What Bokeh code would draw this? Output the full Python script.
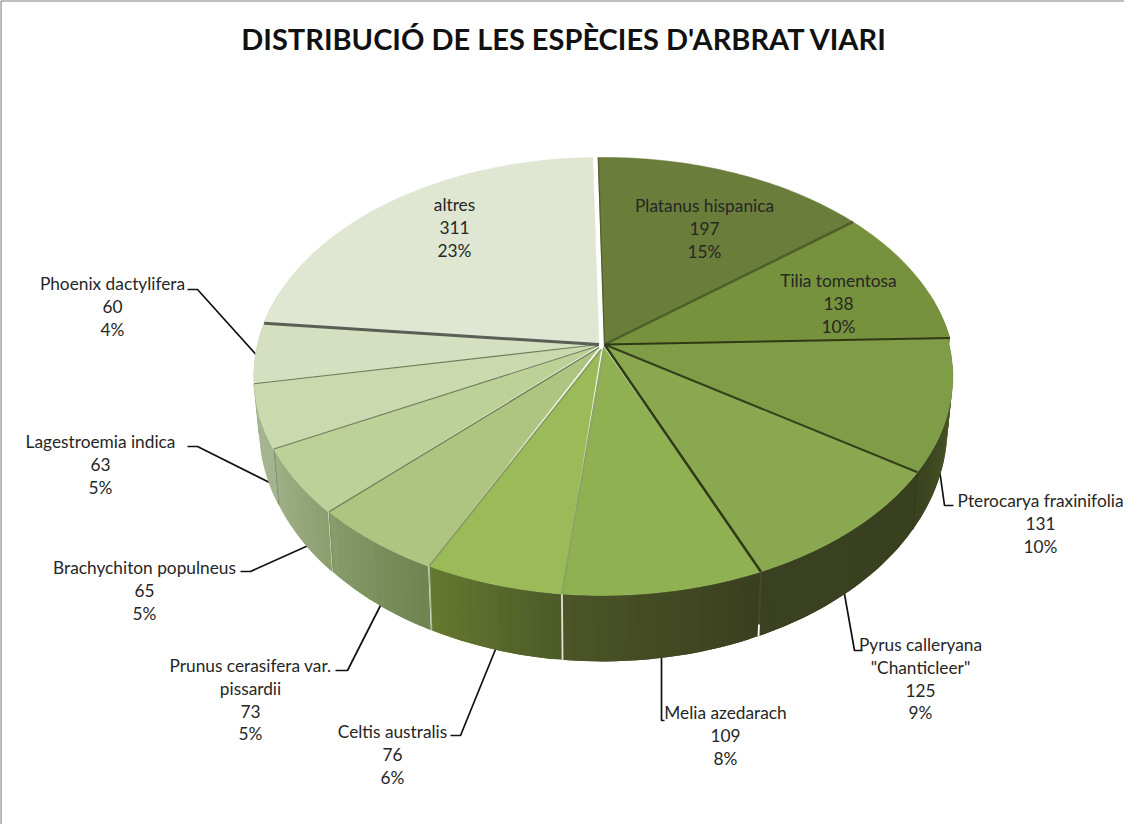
import math
from bokeh.plotting import figure
from bokeh.embed import file_html
from bokeh.resources import INLINE
from bokeh.models import Range1d
from bokeh.core.properties import value

TITLE = "DISTRIBUCIÓ DE LES ESPÈCIES D'ARBRAT VIARI"
species = ["Platanus hispanica", "Tilia tomentosa", "Pterocarya fraxinifolia",
           "Pyrus calleryana\n\"Chanticleer\"", "Melia azedarach", "Celtis australis",
           "Prunus cerasifera var.\npissardii", "Brachychiton populneus",
           "Lagestroemia indica", "Phoenix dactylifera", "altres"]
counts = [197, 138, 131, 125, 109, 76, 73, 65, 63, 60, 311]
percents = ["15%", "10%", "10%", "9%", "8%", "6%", "5%", "5%", "5%", "4%", "23%"]

top_colors = ["#6a7d3a", "#76923c", "#7f9c47", "#8aa84f", "#90b152", "#9bbb59",
              "#afc481", "#bdd098", "#cad9ae", "#d5e0c0", "#dfe7d2"]
# wall colours at the slice's clockwise start and end
wall_start = ["#6a7d3a", "#6a8338", "#55682c", "#39401f", "#393f1f", "#4c5a28",
              "#6f8350", "#8c9e70", "#a4b48e", "#b3c29f", "#c8d4b8"]
wall_end = ["#6a8338", "#6a8338", "#394120", "#3a4120", "#4c5528", "#66792f",
            "#889c6c", "#a0b088", "#a6b692", "#b3c29f", "#c8d4b8"]
sep_colors = ["#4f5e2a", "#2f3a15", "#333f1a", "#2f3a15", "#8ba562", "#88a060",
              "#6e7f55", "#6e7d5a", "#6e7d5a", "#5a5f55"]
sep_widths = [2.5, 2, 2, 2.5, 2, 2, 1.3, 1.1, 1.2, 3]
seam_colors = ["#5f7035", "#5f7035", "#33391b", "#454c2a", "#dfe5d4", "#a9b98a",
               "#7f9060", "#7f8f70", "#a0b088", "#b3c29f", "#c8d4b8"]
# the shift of each slice's rim and of its point at the centre
rim_off = [(2.5, 0), (2.5, 0), (0, 0), (0, 0), (0, 0), (0, 0),
           (-1, 0), (-2, 0), (-2.5, 0), (-2.5, 0), (-3, 0)]
apex_off = [(2.5, 0), (2.5, 0), (2.5, 0), (2.5, 0), (2, 3), (-1, 5),
            (-3, 3), (-3, 1), (-3, 0), (-3, 0), (-3, 0)]

CX, CY, A, B, B_LEFT, K, ROT = 609.5, 352.0, 214.3, 347.0, 342.0, 0.146, -1.2
WALL_X, WALL_H, WALL_U = 0.985, 47.0, 19.0


def rim(theta, off=(0, 0)):
    u, w = -math.cos(theta), math.sin(theta)
    den = 1 - K * u
    b = B if w >= 0 else B_LEFT
    return CX + b * w / den + off[0], CY + A * u / den + off[1]


def low(theta, off=(0, 0)):
    x, y = rim(theta, off)
    return CX + (x - CX) * WALL_X, y + WALL_H + WALL_U * (-math.cos(theta))


def mix(c1, c2, t):
    a = [int(c1[i:i + 2], 16) for i in (1, 3, 5)]
    b = [int(c2[i:i + 2], 16) for i in (1, 3, 5)]
    return "#%02x%02x%02x" % tuple(round(p + (q - p) * t) for p, q in zip(a, b))


total = sum(counts)
edges = [math.radians(ROT)]
for c in counts:
    edges.append(edges[-1] + 2 * math.pi * c / total)

p = figure(width=1124, height=824, x_range=Range1d(8, 1132), y_range=Range1d(832, 8),
           output_backend="svg", toolbar_location=None, min_border=0,
           background_fill_color="#ffffff", border_fill_color="#ffffff")
p.axis.visible = False
p.grid.visible = False
p.outline_line_color = None

# frame
p.line([8.3, 8.3, 1132], [832, 8.3, 8.3], line_color="#808080", line_width=1.6)

# leaders, under the walls so that they reach the rim
leaders = [[(946, 470), (952, 513), (961, 513)], [(851, 596), (862, 658), (870, 658)],
           [(669, 660), (669, 728), (672, 728)], [(505, 652), (468, 743), (458, 743)],
           [(390, 609), (355, 678), (343, 678)], [(318, 552), (258, 579), (248, 579)],
           [(283, 493), (205, 454), (195, 454)], [(268, 367), (205, 297), (195, 297)]]
for pts in leaders:
    p.line([c[0] for c in pts], [c[1] for c in pts], line_color="#111111", line_width=1.7)

# walls: overlapping strips, each painted over the previous one
for i in range(len(counts)):
    a0, a1 = edges[i], edges[i + 1]
    off = rim_off[i]
    n = max(2, int(math.degrees(a1 - a0) / 1.5))
    wx, wy, wc = [], [], []
    for j in range(n):
        t0, t1 = a0 + (a1 - a0) * j / n, a0 + (a1 - a0) * min(j + 2, n) / n
        if -math.cos(t0) < -0.25:
            continue
        arc = [rim(t0, off), rim((t0 + t1) / 2, off), rim(t1, off)]
        lo = [low(t1, off), low((t0 + t1) / 2, off), low(t0, off)]
        wx.append([c[0] for c in arc + lo])
        wy.append([c[1] for c in arc + lo])
        wc.append(mix(wall_start[i], wall_end[i], (j + 0.5) / n))
    if wx:
        p.patches(wx, wy, fill_color=wc, line_color=None)

# wall seams
for i in range(2, 9):
    a = edges[i + 1]
    off = rim_off[i]
    x0, y0 = rim(a, off)
    x1, y1 = low(a, off)
    p.line([x0, x1], [y0, y1], line_color=seam_colors[i], line_width=1.8 if i in (3, 4) else 1.2)
    if i == 3:  # the white notch at the foot of this seam
        p.line([x0 + (x1 - x0) * 0.82, x1], [y0 + (y1 - y0) * 0.82, y1],
               line_color="#ffffff", line_width=1.8)

# top faces
for i in range(len(counts)):
    a0, a1 = edges[i], edges[i + 1]
    n = max(4, int(math.degrees(a1 - a0)))
    pts = [rim(a0 + (a1 - a0) * j / n, rim_off[i]) for j in range(n + 1)]
    xs = [CX + apex_off[i][0]] + [c[0] for c in pts]
    ys = [CY + apex_off[i][1]] + [c[1] for c in pts]
    p.patch(xs, ys, fill_color=top_colors[i], line_color=top_colors[i], line_width=0.5)

# separators
for i in range(len(counts) - 1):
    x, y = rim(edges[i + 1], rim_off[i])
    p.line([CX + apex_off[i][0], x], [CY + apex_off[i][1], y],
           line_color=sep_colors[i], line_width=sep_widths[i])
x, y = rim(edges[0], rim_off[0])
p.line([CX + apex_off[0][0], x], [CY + apex_off[0][1], y], line_color="#4f5e2a", line_width=1.2)

# labels: centre x, y of first line
label_pos = [(712, 213), (846, 288), (1048, 508), (928, 652), (733, 720), (400, 739),
             (258, 673), (152, 575), (108, 449), (120, 291), (462, 212)]
LINE = 22.8
FONT = value("Lato")
for i, name in enumerate(species):
    lines = name.split("\n") + [str(counts[i]), percents[i]]
    lx, ly = label_pos[i]
    p.text([lx] * len(lines), [ly + LINE * k for k in range(len(lines))], text=lines,
           text_font=FONT, text_font_size="17.3px", text_align="center", text_baseline="middle",
           text_color="#262626")

p.text([572], [46], text=[TITLE], text_font=FONT, text_font_style="bold", text_font_size="29px",
       text_align="center", text_baseline="middle", text_color="#111111")

open("out.html", "w").write(file_html(p, INLINE))
